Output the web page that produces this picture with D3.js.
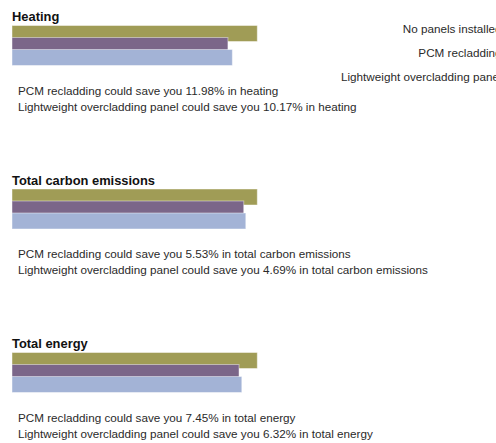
<!DOCTYPE html>
<html>
<head>
<meta charset="utf-8">
<script src="https://cdn.jsdelivr.net/npm/d3@7"></script>
<style>
  html, body { margin: 0; padding: 0; background: #fff; overflow: hidden; }
  svg { display: block; }
</style>
</head>
<body>
<svg id="chart" width="496" height="443"></svg>
<script>
// Energy-use categories, each compared against the no-panel baseline
const categories = ["Heating", "Total carbon emissions", "Total energy"];
const scenarios = ["No panels installed", "PCM recladding", "Lightweight overcladding panel"];
const baselineValues = [100, 100, 100];
const pcmSavings = [11.98, 5.53, 7.45];
const lightweightSavings = [10.17, 4.69, 6.32];
const scenarioColors = ["#a09c56", "#7b6689", "#a3b3d6"];
const categoryLabels = ["heating", "total carbon emissions", "total energy"];

const svg = d3.select("#chart");
const font = "'Liberation Sans', Arial, sans-serif";

// Relative use (% of baseline) for every scenario
const rows = categories.map((c, i) => ({
  name: c,
  label: categoryLabels[i],
  values: [baselineValues[i], baselineValues[i] - pcmSavings[i], baselineValues[i] - lightweightSavings[i]],
  pcm: pcmSavings[i],
  light: lightweightSavings[i]
}));

const x = d3.scaleLinear().domain([0, 100]).range([12, 257.3]);
const blockY = d3.scalePoint().domain(categories).range([25.5, 352.5]);
const barY = d3.scaleLinear().domain([0, 1]).range([0, 12]);
const barH = 16;

const blocks = svg.selectAll("g.block").data(rows).join("g")
  .attr("class", "block")
  .attr("transform", d => `translate(0,${blockY(d.name)})`);

blocks.append("text")
  .attr("x", 12).attr("y", -4.5)
  .attr("font-family", font).attr("font-size", 12.9).attr("font-weight", "bold")
  .attr("fill", "#111")
  .text(d => d.name);

blocks.selectAll("rect").data(d => d.values).join("rect")
  .attr("x", x(0))
  .attr("y", (v, j) => barY(j))
  .attr("width", v => x(v) - x(0))
  .attr("height", barH)
  .attr("fill", (v, j) => scenarioColors[j])
  .attr("stroke", "rgba(255,255,255,0.45)")
  .attr("stroke-width", 1);

blocks.append("text")
  .attr("x", 18).attr("y", 69)
  .attr("font-family", font).attr("font-size", 11.7).attr("fill", "#2a2a2a")
  .text(d => `PCM recladding could save you ${d.pcm.toFixed(2)}% in ${d.label}`);

blocks.append("text")
  .attr("x", 18).attr("y", 85)
  .attr("font-family", font).attr("font-size", 11.7).attr("fill", "#2a2a2a")
  .text(d => `Lightweight overcladding panel could save you ${d.light.toFixed(2)}% in ${d.label}`);

// Legend, right aligned at the edge of the panel
const legendY = d3.scalePoint().domain(scenarios).range([33, 81]);
svg.append("g").selectAll("text").data(scenarios).join("text")
  .attr("x", 501.5)
  .attr("y", d => legendY(d))
  .attr("text-anchor", "end")
  .attr("font-family", font).attr("font-size", 11.7).attr("fill", "#2a2a2a")
  .text(d => d);
</script>
</body>
</html>
